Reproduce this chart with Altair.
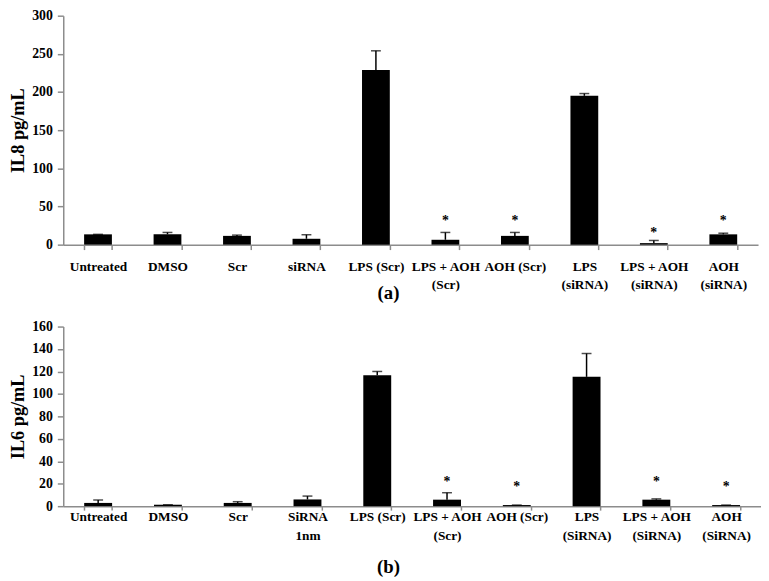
import altair as alt
import pandas as pd

# Panel (a): IL8
cats_a = ["Untreated", "DMSO", "Scr", "siRNA", "LPS (Scr)", "LPS + AOH|(Scr)",
          "AOH (Scr)", "LPS|(siRNA)", "LPS + AOH|(siRNA)", "AOH|(siRNA)"]
mean_a = [13.5, 13.5, 11.5, 7.7, 229, 6.4, 11.5, 195, 2, 13.5]
err_a = [13.5, 16, 12.5, 13, 254, 16, 16, 198, 5.5, 15]
star_a = [None, None, None, None, None, 31.5, 31.5, None, 15, 31.5]

# Panel (b): IL6
cats_b = ["Untreated", "DMSO", "Scr", "SiRNA|1nm", "LPS (Scr)", "LPS + AOH|(Scr)",
          "AOH (Scr)", "LPS|(SiRNA)", "LPS + AOH|(SiRNA)", "AOH|(SiRNA)"]
mean_b = [2.9, 1.3, 2.9, 6, 116.7, 5.8, 1.0, 115.2, 5.8, 1.0]
err_b = [5.5, 1.3, 4, 9, 120, 12, 1.0, 136, 6.5, 1.0]
star_b = [None, None, None, None, None, 21.5, 17, None, 21.5, 17]

FONT = "Liberation Serif"


def panel(cats, mean, err, star, ymax, ystep, ytitle, caption, w, h,
          xlabpad, xticksize, title_y):
    df = pd.DataFrame({"cat": cats, "mean": mean, "err": err, "star": star})
    xscale = alt.Scale(paddingInner=0.6, paddingOuter=0.3)
    xaxis = alt.Axis(title=caption, labelAngle=0, tickBand="extent",
                     labelExpr="split(datum.label, '|')",
                     labelLineHeight=18.5, labelPadding=xlabpad,
                     tickSize=xticksize,
                     labelFontSize=13.5, titleFontSize=19,
                     titleX=388 - 59, titleY=title_y,
                     titleBaseline="middle")
    yscale = alt.Scale(domain=[0, ymax], nice=False)
    yaxis = alt.Axis(title=ytitle, values=list(range(0, ymax + 1, ystep)),
                     grid=False, labelFontSize=14, titleFontSize=18.5,
                     labelOverlap=False,
                     tickSize=6, labelPadding=5, titlePadding=4)
    X = alt.X("cat:N", sort=cats, scale=xscale, axis=xaxis)
    base = alt.Chart(df)
    bars = base.mark_bar(color="black").encode(
        x=X, y=alt.Y("mean:Q", scale=yscale, axis=yaxis))
    rule = base.mark_rule(color="black", strokeWidth=1.5).encode(
        x=X, y=alt.Y("mean:Q", scale=yscale, axis=yaxis), y2="err:Q")
    cap = base.mark_tick(color="black", size=10, thickness=1.5, orient="horizontal").encode(
        x=X, y=alt.Y("err:Q", scale=yscale, axis=yaxis))
    stars = base.transform_filter("datum.star != null").mark_text(
        text="*", font=FONT, fontSize=14, fontWeight="bold", baseline="middle",
        color="black").encode(x=X, y=alt.Y("star:Q", scale=yscale, axis=yaxis))
    return alt.layer(bars, rule, cap, stars).properties(width=w, height=h)


top = panel(cats_a, mean_a, err_a, star_a, 300, 50, "IL8 pg/mL", "(a)", 704, 232,
            10, 5, 49)
bottom = panel(cats_b, mean_b, err_b, star_b, 160, 20, "IL6 pg/mL", "(b)", 707, 182,
               0, 4, 61)

chart = alt.vconcat(top, bottom, spacing=17).properties(
    padding={"left": 1, "top": -3, "right": 0, "bottom": 0}
).configure_view(stroke=None).configure_axis(
    labelFont=FONT, titleFont=FONT, labelFontWeight="bold", titleFontWeight="bold",
    labelColor="black", titleColor="black", domainColor="#8c8c8c",
    tickColor="#8c8c8c", domainWidth=1.5, tickWidth=1.5
)

chart.save("out.html", embed_options={"renderer": "svg", "actions": False})
